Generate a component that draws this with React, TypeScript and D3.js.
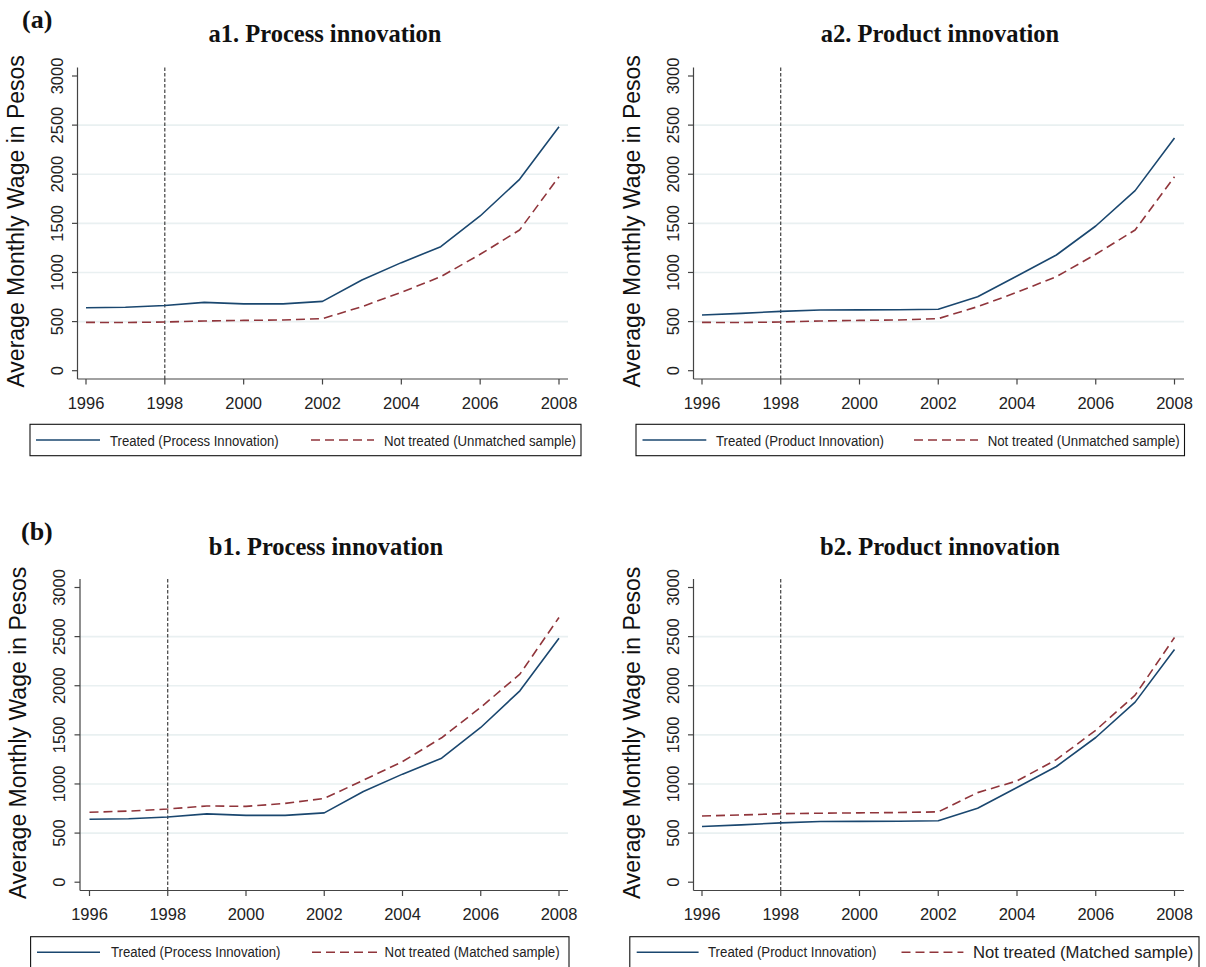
import React from 'react';
import * as d3 from 'd3';

// ---------- data ----------
const YEARS = [1996, 1997, 1998, 1999, 2000, 2001, 2002, 2003, 2004, 2005, 2006, 2007, 2008];
const X_TICKS = [1996, 1998, 2000, 2002, 2004, 2006, 2008];
const Y_TICKS = [0, 500, 1000, 1500, 2000, 2500, 3000];
const GRID_VALUES = [500, 1000, 1500, 2000, 2500];
const POLICY_YEAR = 1998;

const treatedProcess = [641, 646, 664, 696, 680, 680, 706, 923, 1100, 1262, 1575, 1948, 2484];
const treatedProduct = [567, 584, 604, 618, 619, 621, 625, 753, 964, 1178, 1473, 1833, 2368];
const notTreatedUnmatched = [492, 490, 496, 506, 512, 516, 530, 652, 798, 957, 1185, 1432, 1975];
const notTreatedMatchedProcess = [712, 724, 745, 776, 772, 802, 853, 1038, 1228, 1470, 1780, 2118, 2695];
const notTreatedMatchedProduct = [674, 684, 698, 702, 706, 709, 716, 912, 1031, 1248, 1547, 1904, 2491];

const PANEL_TITLES = ['a1. Process innovation', 'a2. Product innovation', 'b1. Process innovation', 'b2. Product innovation'];
const TREATED_LABELS = ['Treated (Process Innovation)', 'Treated (Product Innovation)', 'Treated (Process Innovation)', 'Treated (Product Innovation)'];
const CONTROL_LABELS = ['Not treated (Unmatched sample)', 'Not treated (Unmatched sample)', 'Not treated (Matched sample)', 'Not treated (Matched sample)'];
const Y_TITLE = 'Average Monthly Wage in Pesos';

// ---------- styles ----------
const NAVY = '#1a476f';
const MAROON = '#90353b';
const GRID = '#e9f0f1';
const AXIS = '#444';
const SANS = '"Liberation Sans", Arial, Helvetica, sans-serif';
const SERIF = '"Liberation Serif", "Times New Roman", Times, serif';

type Layout = {
  axisX: number; x0: number; x1: number; rightX: number;
  y0: number; y1: number; axisY: number; topY: number;
  titleX: number; titleY: number;
  box: [number, number, number, number];
  s1: [number, number]; t1x: number; t1w: number;
  s2: [number, number]; t2x: number; t2w: number; t2size: number;
  legY: number; legBase: number;
};

const LAYOUTS: Layout[] = [
  { axisX: 77.5, x0: 86, x1: 559, rightX: 568, y0: 370.7, y1: 76, axisY: 379, topY: 67.5,
    titleX: 325, titleY: 41.7, box: [30, 424.3, 581, 455.7],
    s1: [36, 100], t1x: 110, t1w: 168.6, s2: [311, 374], t2x: 384, t2w: 192, t2size: 14,
    legY: 440, legBase: 445.5 },
  { axisX: 693.5, x0: 702, x1: 1174.5, rightX: 1184, y0: 370.7, y1: 76, axisY: 379, topY: 67.5,
    titleX: 940, titleY: 41.7, box: [636, 424.3, 1184.5, 455.7],
    s1: [642.5, 706.3], t1x: 716, t1w: 168, s2: [914, 978], t2x: 987.7, t2w: 192, t2size: 14,
    legY: 440, legBase: 445.5 },
  { axisX: 80, x0: 89.5, x1: 559, rightX: 568, y0: 882.2, y1: 587.5, axisY: 890.5, topY: 579,
    titleX: 326, titleY: 555, box: [30.6, 936.7, 569, 968.5],
    s1: [37, 100], t1x: 111, t1w: 169.5, s2: [312, 377], t2x: 384.6, t2w: 175, t2size: 14,
    legY: 952.3, legBase: 957 },
  { axisX: 693.5, x0: 702, x1: 1174.5, rightX: 1184, y0: 882.2, y1: 587.5, axisY: 890.5, topY: 579,
    titleX: 940, titleY: 555, box: [629.8, 936.7, 1199, 968.5],
    s1: [636.7, 698.6], t1x: 708, t1w: 168.4, s2: [901.5, 963.4], t2x: 973, t2w: 220.4, t2size: 17,
    legY: 952.3, legBase: 957 },
];

const SERIES: [number[], number[]][] = [
  [treatedProcess, notTreatedUnmatched],
  [treatedProduct, notTreatedUnmatched],
  [treatedProcess, notTreatedMatchedProcess],
  [treatedProduct, notTreatedMatchedProduct],
];

function Panel({ idx }: { idx: number }) {
  const L = LAYOUTS[idx];
  const [treated, control] = SERIES[idx];
  const x = d3.scaleLinear().domain([YEARS[0], YEARS[YEARS.length - 1]]).range([L.x0, L.x1]);
  const y = d3.scaleLinear().domain([0, 3000]).range([L.y0, L.y1]);
  const line = d3.line<number>().x((_, i) => x(YEARS[i])).y((d) => y(d));
  const midY = (L.y0 + L.y1) / 2 - 2;
  const [bx0, by0, bx1, by1] = L.box;

  return (
    <g>
      {/* gridlines */}
      {GRID_VALUES.map((v) => (
        <line key={v} x1={L.axisX} x2={L.rightX} y1={y(v)} y2={y(v)} stroke={GRID} strokeWidth={1.6} />
      ))}
      {/* policy line */}
      <line x1={x(POLICY_YEAR)} x2={x(POLICY_YEAR)} y1={L.topY} y2={L.axisY}
        stroke="#000" strokeWidth={0.9} strokeDasharray="3.5,2" />
      {/* series */}
      <path d={line(treated) || ''} fill="none" stroke={NAVY} strokeWidth={1.6} strokeLinejoin="round" />
      <path d={line(control) || ''} fill="none" stroke={MAROON} strokeWidth={1.6} strokeDasharray="9,5" strokeLinejoin="round" />
      {/* axes */}
      <line x1={L.axisX} x2={L.axisX} y1={L.topY} y2={L.axisY} stroke={AXIS} strokeWidth={1.2} />
      <line x1={L.axisX} x2={L.rightX} y1={L.axisY} y2={L.axisY} stroke={AXIS} strokeWidth={1.2} />
      {Y_TICKS.map((v) => (
        <g key={v}>
          <line x1={L.axisX - 5.5} x2={L.axisX} y1={y(v)} y2={y(v)} stroke={AXIS} strokeWidth={1.2} />
          <text transform={`translate(${L.axisX - 15},${y(v)}) rotate(-90)`} textAnchor="middle"
            fontFamily={SANS} fontSize={16.5} fill="#222">{v}</text>
        </g>
      ))}
      {X_TICKS.map((t) => (
        <g key={t}>
          <line x1={x(t)} x2={x(t)} y1={L.axisY} y2={L.axisY + 5.5} stroke={AXIS} strokeWidth={1.2} />
          <text x={x(t)} y={L.axisY + 29.5} textAnchor="middle" fontFamily={SANS} fontSize={16.5} fill="#222">{t}</text>
        </g>
      ))}
      {/* y title */}
      <text transform={`translate(${L.axisX - 54},${midY}) rotate(-90)`} textAnchor="middle"
        fontFamily={SANS} fontSize={23} fill="#111">{Y_TITLE}</text>
      {/* panel title */}
      <text x={L.titleX} y={L.titleY} textAnchor="middle" fontFamily={SERIF} fontWeight="bold" fontSize={24.5} fill="#111">
        {PANEL_TITLES[idx]}
      </text>
      {/* legend */}
      <rect x={bx0} y={by0} width={bx1 - bx0} height={by1 - by0} fill="#fff" stroke="#111" strokeWidth={1.1} />
      <line x1={L.s1[0]} x2={L.s1[1]} y1={L.legY} y2={L.legY} stroke={NAVY} strokeWidth={1.6} />
      <text x={L.t1x} y={L.legBase} fontFamily={SANS} fontSize={14} fill="#222"
        textLength={L.t1w} lengthAdjust="spacingAndGlyphs">{TREATED_LABELS[idx]}</text>
      <line x1={L.s2[0]} x2={L.s2[1]} y1={L.legY} y2={L.legY} stroke={MAROON} strokeWidth={1.6} strokeDasharray="9,5" />
      <text x={L.t2x} y={L.legBase + (L.t2size > 14 ? 1 : 0)} fontFamily={SANS} fontSize={L.t2size} fill="#222"
        textLength={L.t2w} lengthAdjust="spacingAndGlyphs">{CONTROL_LABELS[idx]}</text>
    </g>
  );
}

export default function App() {
  return (
    <svg width={1206} height={967} viewBox="0 0 1206 967"
      style={{ position: 'absolute', left: 0, top: 0, background: '#fff' }}>
      <rect x={0} y={0} width={1206} height={967} fill="#fff" />
      <text x={22} y={28} fontFamily={SERIF} fontWeight="bold" fontSize={26} fill="#111">(a)</text>
      <text x={21} y={540} fontFamily={SERIF} fontWeight="bold" fontSize={26} fill="#111">(b)</text>
      {LAYOUTS.map((_, i) => <Panel key={i} idx={i} />)}
    </svg>
  );
}
